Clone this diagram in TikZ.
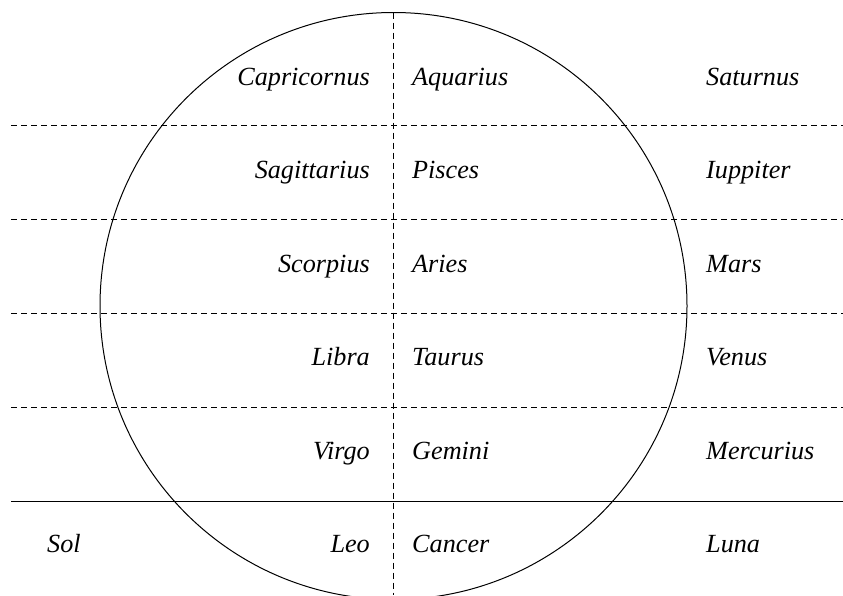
\documentclass[tikz,border=0pt]{standalone}
\usepackage{fontspec}
\setmainfont{Liberation Serif}
\begin{document}
\begin{tikzpicture}[x=1pt,y=-1pt,
  lab/.style={inner sep=0pt, font=\fontsize{26.2}{30}\selectfont\itshape},
  signl/.style={lab, anchor=base east},
  signr/.style={lab, anchor=base west},
  dsh/.style={line width=0.9pt, dash pattern=on 6pt off 4pt},
  solidline/.style={line width=1.2pt},
  orb/.style={line width=1pt}
]
\useasboundingbox (0,0) rectangle (843,595);
\begin{scope}
  \clip (0,0) rectangle (843,595);
  \draw[orb] (393.5,306) circle (293.5pt);
\end{scope}
% row separators
\foreach \yy in {125,219,313,407}
  \draw[dsh] (11,\yy) -- (843,\yy);
\draw[solidline] (11,501.5) -- (843,501.5);
\draw[dsh] (393,12.5) -- (393,595);
% labels
\foreach \nm/\txt [count=\k from 0] in {l0/Capricornus,l1/Sagittarius,l2/Scorpius,l3/Libra,l4/Virgo,l5/Leo}
  \node[signl] (\nm) at (370,85+93.5*\k) {\txt};
\foreach \nm/\txt [count=\k from 0] in {m0/Aquarius,m1/Pisces,m2/Aries,m3/Taurus,m4/Gemini,m5/Cancer}
  \node[signr] (\nm) at (412,85+93.5*\k) {\txt};
\foreach \nm/\txt [count=\k from 0] in {p0/Saturnus,p1/Iuppiter,p2/Mars,p3/Venus,p4/Mercurius,p5/Luna}
  \node[signr] (\nm) at (706,85+93.5*\k) {\txt};
\node[signr] (sol) at (47,552.5) {Sol};
\end{tikzpicture}
\end{document}
